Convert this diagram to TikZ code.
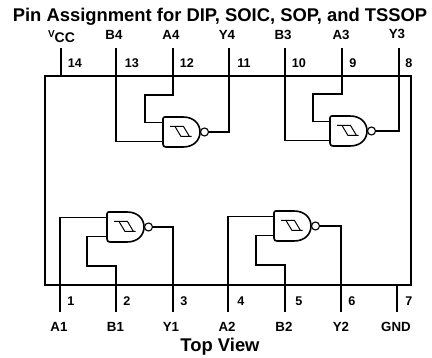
\documentclass[tikz,border=0pt]{standalone}
\usepackage{fontspec}
\setmainfont{Liberation Sans}
\tikzset{
  x=1pt,y=-1pt,
  wire/.style={line width=1.3pt,line join=miter},
  gateb/.style={line width=1.6pt,line join=round},
  lab/.style={font=\bfseries\fontsize{13.3}{14}\selectfont,inner sep=0pt,anchor=center},
  num/.style={font=\bfseries\fontsize{12.6}{14}\selectfont,inner sep=0pt,anchor=center},
  ttl/.style={font=\bfseries\fontsize{18.4}{20}\selectfont,inner sep=0pt,anchor=center}
}
% name, left x, centre y
\newcommand{\mygate}[3]{%
  \begin{scope}[shift={(#2,#3)}]
    \draw[gateb] (2,-15) -- (20,-15) .. controls (31,-15) and (37,-8) .. (37,0) .. controls (37,8) and (31,15) .. (20,15) -- (3,15) .. controls (1,15) and (0,14) .. (0,12) -- (0,-13) .. controls (0,-14.5) and (1,-15) .. (2,-15) -- cycle;
    \draw[line width=1pt] (7,-5.5) -- (12,-5.5) -- (18,4.5) -- (28.5,4.5) (12,-5.5) -- (20.5,-5.5) -- (26.5,4.5);
    \draw[line width=1.1pt] (41.5,0) circle (4);
    \coordinate (#1a) at (0,-9.5);
    \coordinate (#1b) at (0,9.5);
    \coordinate (#1y) at (45.5,0);
  \end{scope}}
\begin{document}
\begin{tikzpicture}
\useasboundingbox (0,0) rectangle (432,358);
\node[ttl] (title) at (220,16.5) {Pin Assignment for DIP, SOIC, SOP, and TSSOP};
\node[ttl] (view) at (220,347) {Top View};
% package outline
\coordinate (TL) at (45,76);
\coordinate (TR) at (411,76);
\coordinate (BR) at (411,285);
\coordinate (BL) at (45,285);
\draw[wire] (TL) -- (TR) -- (BR) -- (BL) -- cycle;
% top pins
\foreach \n/\x in {14/61,13/116,12/173,11/229,10/285,9/342,8/399}{
  \coordinate (top\n) at (\x,48);
  \coordinate (edge\n) at (\x,76);
  \draw[wire] (top\n) -- (edge\n);
}
\foreach \n/\x in {1/60,2/116,3/173,4/228,5/285,6/341,7/397}{
  \coordinate (bot\n) at (\x,312);
  \coordinate (edge\n) at (\x,285);
  \draw[wire] (bot\n) -- (edge\n);
}
% numbers
\foreach \n/\x in {14/75,13/132,12/187,11/244,10/299,9/353,8/409}{
  \node[num] (n\n) at (\x,63) {\n};
}
\foreach \n/\x in {1/71,2/127,3/184,4/241,5/299,6/352,7/409}{
  \node[num] (n\n) at (\x,301) {\n};
}
% labels
\node[lab] (vcc) at (61.5,37) {\raisebox{5pt}{\fontsize{10}{11}\selectfont V}\fontsize{14}{14}\selectfont CC};
\node[lab] (b4) at (114,35) {B4};
\node[lab] (a4) at (171,34.5) {A4};
\node[lab] (y4) at (227,35) {Y4};
\node[lab] (b3) at (283,35) {B3};
\node[lab] (a3) at (341,35) {A3};
\node[lab] (y3) at (397,33.5) {Y3};
\node[lab] (a1) at (59,327) {A1};
\node[lab] (b1) at (115.5,327) {B1};
\node[lab] (y1) at (171,327) {Y1};
\node[lab] (a2) at (227,327) {A2};
\node[lab] (b2) at (284,327) {B2};
\node[lab] (y2) at (341,327) {Y2};
\node[lab] (gnd) at (396,327) {GND};
% gates
\mygate{g4}{163}{132}
\mygate{g3}{330}{131}
\mygate{g1}{107}{227}
\mygate{g2}{274}{226}
% wiring
\draw[wire] (edge12) -- (173,95) -- (145,95) -- (145,122.5) -- (g4a);
\draw[wire] (edge13) -- (116,141.5) -- (g4b);
\draw[wire] (g4y) -- (229,132) -- (edge11);
\draw[wire] (edge9) -- (342,94) -- (313,94) -- (313,121.5) -- (g3a);
\draw[wire] (edge10) -- (285,140.5) -- (g3b);
\draw[wire] (g3y) -- (399,131) -- (edge8);
\draw[wire] (edge1) -- (60,217.5) -- (g1a);
\draw[wire] (edge2) -- (116,266) -- (87,266) -- (87,236.5) -- (g1b);
\draw[wire] (g1y) -- (173,227) -- (edge3);
\draw[wire] (edge4) -- (228,216.5) -- (g2a);
\draw[wire] (edge5) -- (285,265) -- (256,265) -- (256,235.5) -- (g2b);
\draw[wire] (g2y) -- (341,226) -- (edge6);
\end{tikzpicture}
\end{document}
